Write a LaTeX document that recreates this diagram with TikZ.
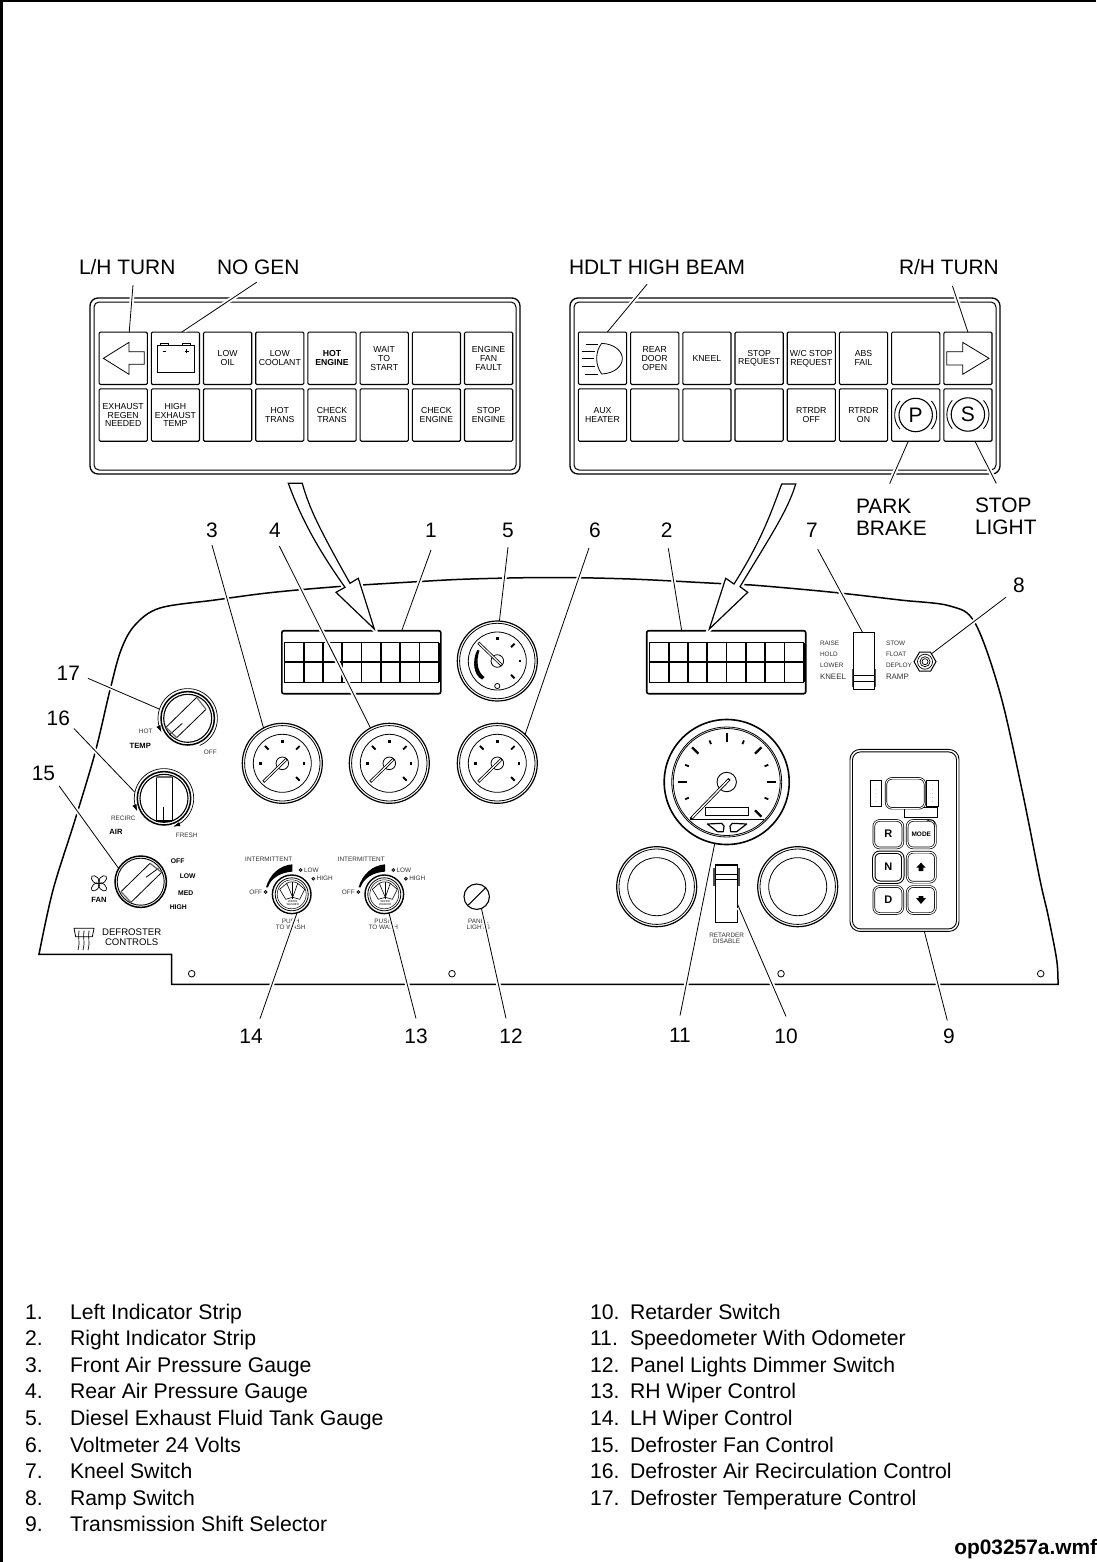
\documentclass[tikz,border=0pt]{standalone}
\usepackage{fontspec}
\setmainfont{Liberation Sans}
\usetikzlibrary{arrows.meta,shapes.geometric,calc}
\newcommand\bigfs{\fontsize{20.9}{22}\selectfont}
\newcommand\legfs{\fontsize{21.2}{22}\selectfont}
\newcommand\btnfs{\fontsize{8.7}{8.8}\selectfont}
\newcommand\smallfs{\fontsize{6.4}{6.7}\selectfont}
\tikzset{
 lab/.style={inner sep=0pt,outer sep=0pt,anchor=base,font=\bigfs},
 labw/.style={lab,anchor=base west},
 leader/.style={line width=.8pt,preaction={draw=white,line width=4.5pt,shorten >=3pt}},
 btn/.style={draw,rounded corners=1.2pt,minimum width=48.2pt,minimum height=52.4pt,inner sep=0pt,outer sep=0pt,align=center,font=\btnfs,line width=1.1pt},
 pbox/.style={draw,rounded corners=8pt,minimum width=430pt,minimum height=176pt,line width=1.3pt,inner sep=0pt,outer sep=0pt},
 pboxin/.style={draw,rounded corners=5pt,minimum width=422pt,minimum height=168pt,line width=1pt,inner sep=0pt,outer sep=0pt},
 dial/.style={draw,circle,fill=white,inner sep=0pt,outer sep=0pt},
 strip/.style={draw,rounded corners=2pt,minimum width=159pt,minimum height=63pt,line width=1.6pt,inner sep=0pt,outer sep=0pt},
 tiny/.style={inner sep=0pt,outer sep=0pt,font=\smallfs,text=black!80},
 tinyb/.style={tiny,font=\bfseries\fontsize{6.8}{7}\selectfont,text=black},
 bigarrow/.style={draw,fill=white,line width=1.2pt,line join=miter,preaction={draw=white,line width=5pt}},
 tbtn/.style={draw,rounded corners=6pt,double,double distance=1.1pt,line width=.7pt,inner sep=0pt,outer sep=0pt,minimum width=28pt,font=\bfseries\fontsize{11}{11}\selectfont},
 swbox/.style={draw,inner sep=0pt,outer sep=0pt,line width=1.1pt},
}
\newcommand\dialface[3]{%
 \node[dial,minimum size=80pt,line width=1.2pt] (#1) at (#2,#3) {};
 \node[dial,minimum size=75.4pt,line width=.8pt] (#1b) at (#2,#3) {};
 \node[dial,minimum size=58pt,line width=.8pt] (#1c) at (#2,#3) {};
}
\newcommand\dialticks[2]{%
 \foreach \a in {45,135,-45}
  \draw[line width=1.9pt] ({#1+19.5*cos(\a)},{#2-19.5*sin(\a)}) -- ({#1+24.5*cos(\a)},{#2-24.5*sin(\a)});
 \foreach \a in {90,0,180}
  \draw[line width=2.4pt] ({#1+20.5*cos(\a)},{#2-20.5*sin(\a)}) -- ({#1+22.9*cos(\a)},{#2-22.9*sin(\a)});
}
\newcommand\dialneedle[5]{% name x y dx dy
 \node[dial,minimum size=12.6pt,line width=.8pt] (#1h) at (#2,#3) {};
 \draw[line width=2.8pt] ({#2+#4},{#3+#5}) -- ({#2-0.24*#4},{#3-0.24*#5});
 \draw[line width=1.2pt,white] ({#2+0.97*#4},{#3+0.97*#5}) -- ({#2-0.2*#4},{#3-0.2*#5});
}
\newcommand\wiperctl[3]{%
 \begin{scope}[shift={(#2,#3)}]
 \node[tiny] (#1int) at (-23,-35) {INTERMITTENT};
 \node[tiny,anchor=west] (#1low) at (12.3,-24.3) {LOW};
 \node[tiny,anchor=west] (#1high) at (25,-15.6) {HIGH};
 \node[tiny] (#1off) at (-36,-2) {OFF};
 \node[tiny,align=center] (#1push) at (-1,30) {PUSH\\TO WASH};
 \fill (-25.7,-7) .. controls (-22,-20) and (-12,-29) .. (0.7,-30) -- (0.7,-22.7) .. controls (-11,-22) and (-21,-16) .. (-23.7,-7) -- cycle;
 \draw[line width=.8pt] (-26,-2.3) circle[radius=1.4pt] (9,-24.3) circle[radius=1.4pt] (21.6,-15.6) circle[radius=1.4pt];
 \node[dial,minimum size=38.6pt,line width=1.4pt] (#1) at (0,0) {};
 \node[dial,minimum size=33pt,line width=.8pt] (#1b) at (0,0) {};
 \node[dial,minimum size=29pt,line width=.5pt] (#1c) at (0,0) {};
 \draw[line width=.6pt] (-12,-5) -- (-5,-11) -- (1,3) -- (-6,5) -- cycle (13,-5) -- (6,-11) -- (1,3) -- (8,5) -- cycle (-5,-11) .. controls (-2,-13) and (3,-13) .. (6,-11);
 \draw[line width=.9pt] (1,-12) -- (1,5);
 \node[inner sep=0pt,align=center,font=\fontsize{2.8}{3}\selectfont] (#1ww) at (1,8.5) {WIPER\\WASHER};
 \end{scope}
}
\newcommand\arcplot[5]{ plot[domain=#4:#5,samples=50,smooth] ({#1+#3*cos(\x)},{#2-#3*sin(\x)}) }
\begin{document}
\begin{tikzpicture}[x=1pt,y=-1pt,line cap=butt]
\useasboundingbox (0,0) rectangle (1096,1562);
\fill[white] (0,0) rectangle (1096,1562);
\clip (0,0) rectangle (1096,1562);
% frame
\draw[line width=2.6pt] (1096,1.2) -- (1.5,1.2) -- (1.5,1562);

% ---------- upper indicator panels
\node[pbox] (pL) at (305,386) {};
\node[pboxin] (pLi) at (305,386) {};
\node[pbox] (pR) at (785,386) {};
\node[pboxin] (pRi) at (785,386) {};

\node[btn] (bl1) at (123.2,358.3) {};
\node[btn] (bl2) at (175.4,358.3) {};
\node[btn] (bl3) at (227.6,358.3) {LOW\\OIL};
\node[btn] (bl4) at (279.8,358.3) {LOW\\COOLANT};
\node[btn,font=\bfseries\btnfs] (bl5) at (332,358.3) {HOT\\ENGINE};
\node[btn] (bl6) at (384.2,358.3) {WAIT\\TO\\START};
\node[btn] (bl7) at (436.4,358.3) {};
\node[btn] (bl8) at (488.6,358.3) {ENGINE\\FAN\\FAULT};
\node[btn] (bl9) at (123.2,415) {EXHAUST\\REGEN\\NEEDED};
\node[btn] (bl10) at (175.4,415) {HIGH\\EXHAUST\\TEMP};
\node[btn] (bl11) at (227.6,415) {};
\node[btn] (bl12) at (279.8,415) {HOT\\TRANS};
\node[btn] (bl13) at (332,415) {CHECK\\TRANS};
\node[btn] (bl14) at (384.2,415) {};
\node[btn] (bl15) at (436.4,415) {CHECK\\ENGINE};
\node[btn] (bl16) at (488.6,415) {STOP\\ENGINE};

\node[btn] (br1) at (602.5,358.3) {};
\node[btn] (br2) at (654.7,358.3) {REAR\\DOOR\\OPEN};
\node[btn] (br3) at (706.9,358.3) {KNEEL};
\node[btn] (br4) at (759.1,358.3) {STOP\\REQUEST};
\node[btn] (br5) at (811.3,358.3) {W/C STOP\\REQUEST};
\node[btn] (br6) at (863.5,358.3) {ABS\\FAIL};
\node[btn] (br7) at (915.7,358.3) {};
\node[btn] (br8) at (967.9,358.3) {};
\node[btn] (br9) at (602.5,415) {AUX\\HEATER};
\node[btn] (br10) at (654.7,415) {};
\node[btn] (br11) at (706.9,415) {};
\node[btn] (br12) at (759.1,415) {};
\node[btn] (br13) at (811.3,415) {RTRDR\\OFF};
\node[btn] (br14) at (863.5,415) {RTRDR\\ON};
\node[btn] (br15) at (915.7,415) {};
\node[btn] (br16) at (967.9,415) {};

% button icons, zoom coordinates of the left panel
\begin{scope}[shift={(80,250)},scale=1/3]
 \draw[line width=.8pt] (70,325) -- (147,277) -- (147,305) -- (193,305) -- (193,343) -- (147,343) -- (147,373) -- cycle;
 \draw[line width=.8pt] (232,287) rectangle (342,367);
 \draw[line width=.8pt] (242,287) -- (242,281) -- (265,281) -- (265,287) (306,287) -- (306,281) -- (330,281) -- (330,287);
 \draw[line width=.9pt] (248,303) -- (259,303) (314,303) -- (326,303) (320,297) -- (320,309);
\end{scope}
% button icons, zoom coordinates of the right panel
\begin{scope}[shift={(560,250)},scale=1/3]
 \draw[line width=.8pt] (125,280) .. controls (165,282) and (187,305) .. (187,325) .. controls (187,348) and (165,370) .. (125,372) .. controls (105,345) and (105,305) .. (125,280);
 \draw[line width=.8pt] (78,282) -- (113,282) (65,303) -- (105,303) (65,325) -- (102,325) (65,348) -- (105,348) (75,372) -- (115,372);
 \draw[line width=.8pt] (1160,305) -- (1208,305) -- (1208,277) -- (1287,325) -- (1208,373) -- (1208,345) -- (1160,345) -- cycle;
\end{scope}
\node[dial,fill=none,minimum size=33.4pt,line width=1.1pt,font=\fontsize{21}{21}\selectfont] (pc) at (915.7,415) {P};
\node[dial,fill=none,minimum size=33.4pt,line width=1.1pt,font=\fontsize{21}{21}\selectfont] (sc) at (967.9,414.5) {S};
\draw[line width=.9pt] \arcplot{915.7}{415}{21}{138}{222} \arcplot{915.7}{415}{21}{-42}{42};
\draw[line width=.9pt] \arcplot{967.9}{414.5}{21}{138}{222} \arcplot{967.9}{414.5}{21}{-42}{42};

% ---------- main panel outline
\draw[line width=1.5pt,line join=miter] (171.7,984.3) -- (171.7,954.3) -- (39,954.3) --
 plot[smooth,tension=.55] coordinates {(39,954.3) (53,890) (75,820) (95,753) (110,690) (121,650) (135,625) (160,608) (215,600) (270,592.7) (336.7,586.7) (416.7,581.7) (470,579) (550,577.5) (630,579) (715,583.3) (751.7,585) (830,592) (900,600) (950,606) (975,623) (1000,693) (1022,790) (1040,880) (1048,915) (1056.7,960) (1058,984.3)} -- cycle;

% holes
\node[dial,minimum size=6.6pt,line width=.8pt] (h1) at (191.7,973.7) {};
\node[dial,minimum size=6.6pt,line width=.8pt] (h2) at (452,973.7) {};
\node[dial,minimum size=6.6pt,line width=.8pt] (h3) at (781,973.7) {};
\node[dial,minimum size=6.6pt,line width=.8pt] (h4) at (1040.7,973.7) {};

% ---------- strips
\node[strip] (strip1) at (361.3,662.2) {};
\node[strip] (strip2) at (726.2,662.2) {};
\foreach \o in {0,365}{
 \foreach \i in {0,...,8}
  \draw[line width=1.7pt] ({284.4+\o+19.3*\i},642.7) -- ({284.4+\o+19.3*\i},682.3);
 \draw[line width=1pt] ({284.4+\o},642.7) -- ({438.8+\o},642.7) ({284.4+\o},682.3) -- ({438.8+\o},682.3);
 \draw[line width=1.8pt] ({284.4+\o},662) -- ({438.8+\o},662);
}

% ---------- gauges
\dialface{g3}{282.3}{763.3}
\dialticks{282.3}{763.3}
\dialneedle{g3}{282.3}{763.3}{-19}{18.5}
\dialface{g4}{389.3}{763.3}
\dialticks{389.3}{763.3}
\dialneedle{g4}{389.3}{763.3}{-19}{18.5}
\dialface{g6}{497.3}{763.3}
\dialticks{497.3}{763.3}
\dialneedle{g6}{497.3}{763.3}{-19}{18.5}
\dialface{g5}{497.3}{661}
\foreach \a in {45,-45}
 \draw[line width=1.9pt] ({497.3+19.5*cos(\a)},{661-19.5*sin(\a)}) -- ({497.3+24.5*cos(\a)},{661-24.5*sin(\a)});
\draw[line width=2.4pt] (497.3,639.8) -- (497.3,637.4) (518.8,661) -- (521.2,661);
\draw[line width=.8pt,fill=white] (497.3,686) circle[radius=2.6pt];
\fill (477.3,650) .. controls (472,660) and (473,675) .. (482,679.5) -- (484.5,677) .. controls (477,672) and (476,660) .. (479.5,650.5) -- cycle;
\dialneedle{g5}{497.3}{661}{-19}{-18.3}
\dialface{g11a}{656.7}{886.7}
\dialface{g11b}{797.7}{886.7}

% speedometer
\node[dial,minimum size=125pt,line width=1.6pt] (sp) at (726.7,782) {};
\node[dial,minimum size=110pt,line width=.8pt] (spb) at (726.7,782) {};
\node[dial,minimum size=107pt,line width=.8pt] (spc) at (726.7,782) {};
\foreach \a in {90,45,135,0,180,-45}
 \draw[line width=2.2pt] ({726.7+40*cos(\a)},{782-40*sin(\a)}) -- ({726.7+49*cos(\a)},{782-49*sin(\a)});
\foreach \a in {112.5,67.5,157.5,22.5,202.5,-22.5}
 \draw[line width=1.8pt] ({726.7+41*cos(\a)},{782-41*sin(\a)}) -- ({726.7+45*cos(\a)},{782-45*sin(\a)});
\draw[line width=.8pt] (690,819) -- (764,819);
\draw[line width=.8pt] (705,807.7) rectangle (748.3,815.7);
\begin{scope}[shift={(600,720)},scale=1/3]
 \draw[line width=1.2pt,line join=round] (322,312) -- (365,310) -- (372,318) -- (370,335) -- (352,335) -- cycle;
 \draw[line width=1.2pt,line join=round] (440,312) -- (397,310) -- (390,318) -- (392,335) -- (410,335) -- cycle;
\end{scope}
\node[dial,minimum size=19.4pt,line width=.9pt] (sph) at (726.7,782) {};
\draw[line width=3pt] (690.7,819) -- (729.5,779);
\draw[line width=1.3pt,white] (692,817.7) -- (728.5,780);

% ---------- knobs
\node[inner sep=0pt,outer sep=0pt,circle,minimum size=60pt] (kn17o) at (187.7,718.3) {};
\draw[line width=.7pt,-{Latex[length=7pt,width=4.5pt]}] \arcplot{187.7}{718.3}{29.7}{-66}{208};
\node[dial,minimum size=53.4pt,line width=1.5pt] (kn17) at (187.7,718.3) {};
\node[dial,minimum size=48pt,line width=1.1pt] (kn17b) at (187.7,718.3) {};
\node[inner sep=0pt,outer sep=0pt,circle,minimum size=60pt] (kn16o) at (164,798.3) {};
\draw[line width=.7pt,{Latex[length=7pt,width=4.5pt]}-{Latex[length=7pt,width=4.5pt]}] \arcplot{164}{798.3}{29.7}{-72}{206};
\node[dial,minimum size=53.4pt,line width=1.5pt] (kn16) at (164,798.3) {};
\node[dial,minimum size=48pt,line width=1.1pt] (kn16b) at (164,798.3) {};
\node[dial,minimum size=51.4pt,line width=1.5pt] (kn15) at (140.7,881.7) {};
\node[dial,minimum size=47pt,line width=.9pt] (kn15b) at (140.7,881.7) {};
\begin{scope}[shift={(20,640)},scale=1/3]
 \draw[line width=.8pt] (438,262) -- (530,172) (470,293) -- (558,208) (448,285) -- (487,250);
 \draw[line width=1.2pt,black!60] (438,262) -- (470,293) (530,172) -- (558,208);
 \draw[line width=.8pt] (408,412) -- (408,543) (456,412) -- (456,543) (431,500) -- (431,543);
 \draw[line width=1.5pt,black!60] (408,411) -- (456,411);
 \draw[line width=1.5pt] (408,543) -- (456,543);
 \draw[line width=.8pt] (303,755) -- (390,670) (333,787) -- (425,697) (378,712) -- (415,685);
 \draw[line width=1.2pt,black!60] (303,755) -- (333,787) (390,670) -- (425,697);
 % defroster icon
 \draw[line width=.8pt] (162,865) -- (222,865) -- (217,890) -- (167,890) -- cycle;
 \foreach \x in {177,192,207}{
  \fill (\x,873) circle[radius=1.3pt];
  \draw[line width=.7pt] (\x,873) .. controls (\x-4,890) and (\x+4,905) .. (\x-3,930);
 }
\end{scope}
\foreach \a in {45,135,225,315}
 \draw[line width=.7pt,shift={(99,883.3)},rotate=\a] (5pt,0pt) ellipse [x radius=5pt,y radius=3pt];
\node[tiny] (tHot) at (145.7,731.7) {HOT};
\node[tinyb,font=\bfseries\fontsize{7.6}{8}\selectfont] (tTemp) at (140.3,745.7) {TEMP};
\node[tiny] (tOff) at (210.3,752.7) {OFF};
\node[tiny] (tRec) at (123.3,818.7) {RECIRC};
\node[tinyb,font=\bfseries\fontsize{7.6}{8}\selectfont] (tAir) at (116,832) {AIR};
\node[tiny] (tFresh) at (186.7,835.7) {FRESH};
\node[tinyb] (tfOff) at (177.7,860.7) {OFF};
\node[tinyb] (tfLow) at (187.7,875.7) {LOW};
\node[tinyb] (tfMed) at (185.7,892.7) {MED};
\node[tinyb] (tfHigh) at (178.3,906.7) {HIGH};
\node[tinyb,font=\bfseries\fontsize{7.6}{8}\selectfont] (tFan) at (99,900) {FAN};
\node[inner sep=0pt,align=center,font=\fontsize{9.6}{10}\selectfont] (tDef) at (131.7,936.7) {DEFROSTER\\CONTROLS};

% ---------- wipers and dimmer
\wiperctl{w14}{291.7}{894.3}
\wiperctl{w13}{384.3}{894.3}
\node[tiny,align=center] (tPanel) at (478.3,924.3) {PANEL\\LIGHTS};
\node[dial,minimum size=25.4pt,line width=1.1pt] (dim) at (476.7,896.7) {};
\draw[line width=1pt] (468.3,905) -- (486,887.3);

% ---------- retarder
\node[swbox,minimum width=22.4pt,minimum height=57.3pt] (rt10) at (726.5,893.65) {};
\draw[line width=.8pt] (715.3,874) -- (737.7,874) (715.3,879.3) -- (737.7,879.3);
\draw[line width=1.2pt,black!70] (714,868) -- (714,885.7) (739,868) -- (739,885.7);
\node[tiny,align=center] (tRet) at (726.7,938.3) {RETARDER\\DISABLE};

% ---------- kneel / ramp
\node[swbox,minimum width=21.4pt,minimum height=56.6pt] (kn7) at (864,661) {};
\draw[line width=.8pt] (853.3,675.3) -- (874.7,675.3) (853.3,681) -- (874.7,681);
\draw[line width=1.2pt,black!70] (852.3,669) -- (852.3,686.7) (875.7,669) -- (875.7,686.7);
\node[tiny,anchor=west] (tRaise) at (820,643.3) {RAISE};
\node[tiny,anchor=west] (tHold) at (820,654.3) {HOLD};
\node[tiny,anchor=west] (tLower) at (820,665.3) {LOWER};
\node[tiny,anchor=west,font=\fontsize{7.9}{8}\selectfont] (tKneel) at (820,677) {KNEEL};
\node[tiny,anchor=west] (tStow) at (886,643.3) {STOW};
\node[tiny,anchor=west] (tFloat) at (886,654.3) {FLOAT};
\node[tiny,anchor=west] (tDeploy) at (886,665.3) {DEPLOY};
\node[tiny,anchor=west,font=\fontsize{7.9}{8}\selectfont] (tRamp) at (886,677) {RAMP};
\node[draw,regular polygon,regular polygon sides=6,minimum size=22pt,inner sep=0pt,outer sep=0pt,line width=1pt] (sw8) at (925,661.7) {};
\node[dial,minimum size=15pt,line width=.7pt] (sw8b) at (925,661.7) {};
\node[dial,minimum size=10pt,line width=.7pt] (sw8c) at (925,661.7) {};
\node[dial,minimum size=6pt,line width=.7pt] (sw8d) at (925,661.7) {};

% ---------- transmission selector
\node[draw,rounded corners=10pt,minimum width=109pt,minimum height=182pt,line width=.9pt,inner sep=0pt,outer sep=0pt] (tb9) at (904.5,840.4) {};
\node[draw,rounded corners=8pt,minimum width=104pt,minimum height=177pt,line width=.9pt,inner sep=0pt,outer sep=0pt] (tb9b) at (904.5,840.4) {};
\begin{scope}[shift={(860,740)},scale=1/3]
 \draw[line width=.7pt] (32,122) rectangle (65,198) (200,122) rectangle (235,198);
 \foreach \y in {135,148,160,172,185}{
  \fill (48,\y) circle[radius=.6pt];
  \fill (217,\y) circle[radius=.6pt];
 }
 \draw[line width=.7pt] (133,203) rectangle (233,232);
 \draw[fill=white,rounded corners=6pt,double,double distance=.9pt,line width=.7pt] (78,115) rectangle (195,205);
\end{scope}
\node[tbtn,minimum width=29pt,minimum height=27.5pt] (tR) at (888.3,834.2) {R};
\node[tbtn,minimum width=28.3pt,minimum height=27.5pt,font=\bfseries\fontsize{6.5}{7}\selectfont] (tM) at (921.3,834.2) {MODE};
\node[tbtn,minimum width=29pt,minimum height=30pt,double distance=1.4pt,line width=1pt] (tN) at (888.3,867.2) {N};
\node[tbtn,minimum width=28.3pt,minimum height=30pt] (tU) at (921.3,867.2) {};
\node[tbtn,minimum width=29pt,minimum height=27pt] (tD) at (888.3,900) {D};
\node[tbtn,minimum width=28.3pt,minimum height=27pt] (tDn) at (921.3,900) {};
\begin{scope}[shift={(860,740)},scale=1/3]
 \fill (183,368) -- (197,383) -- (190,383) -- (190,393) -- (176,393) -- (176,383) -- (169,383) -- cycle;
 \fill (176,468) -- (190,468) -- (190,474) -- (198,474) -- (183,492) -- (168,474) -- (176,474) -- cycle;
 \draw[line width=.7pt] (200,243) .. controls (215,235) and (228,240) .. (224,262);
\end{scope}

% ---------- big arrows
\path[bigarrow] (288.3,483.3) -- (302.3,483.3) .. controls (309,508) and (320,530) .. (350,583.3) -- (358.3,578.3) -- (374.3,629) -- (336,592.3) -- (345,587.3) .. controls (315,545) and (300,515) .. (288.3,483.3) -- cycle;
\path[bigarrow] (795.7,484) -- (781.7,484) .. controls (772,510) and (762,540) .. (734,584) -- (725.7,578.3) -- (709.3,629) -- (747.7,592.3) -- (740,586.7) .. controls (770,537) and (788,510) .. (795.7,484) -- cycle;

% ---------- labels
\node[labw] (lLH) at (79,274) {L/H TURN};
\node[labw] (lNG) at (217,274) {NO GEN};
\node[labw] (lHB) at (569,274) {HDLT HIGH BEAM};
\node[labw] (lRH) at (899,274) {R/H TURN};
\node[labw] (lPB1) at (856,513) {PARK};
\node[labw] (lPB2) at (856,535) {BRAKE};
\node[labw] (lSL1) at (975,512) {STOP};
\node[labw] (lSL2) at (975,534) {LIGHT};
\node[lab] (n3) at (212,537) {3};
\node[lab] (n4) at (275,537) {4};
\node[lab] (n1) at (431,537) {1};
\node[lab] (n5) at (508,537) {5};
\node[lab] (n6) at (595,537) {6};
\node[lab] (n2) at (666.7,537) {2};
\node[lab] (n7) at (812,537) {7};
\node[lab] (n8) at (1019,592) {8};
\node[lab] (n17) at (68.3,680) {17};
\node[lab] (n16) at (58.3,725) {16};
\node[lab] (n15) at (43.5,780) {15};
\node[lab] (n14) at (251,1043) {14};
\node[lab] (n13) at (416,1043) {13};
\node[lab] (n12) at (511,1043) {12};
\node[lab] (n11) at (680,1042) {11};
\node[lab] (n10) at (786,1043) {10};
\node[lab] (n9) at (949,1043) {9};

% ---------- leaders
\draw[leader] ([xshift=5.8pt,yshift=-11pt]lLH.south) -- ([xshift=6pt]bl1.north);
\draw[leader] ([xshift=-1.5pt,yshift=-8pt]lNG.south) -- ([xshift=6.3pt]bl2.north);
\draw[leader] ([xshift=-10pt,yshift=-10pt]lHB.south) -- ([xshift=4.8pt]br1.north);
\draw[leader] ([xshift=3.5pt,yshift=-11.7pt]lRH.south) -- (br8.north);
\draw[leader] ([xshift=6pt,yshift=15pt]lPB1.north) -- ([xshift=-7.4pt]br15.south);
\draw[leader] ([xshift=-7pt,yshift=14pt]lSL1.north) -- ([xshift=7pt]br16.south);
\draw[leader] ([yshift=-8pt]n3.south) -- (g3.118.6);
\draw[leader] ([xshift=4.3pt,yshift=-9pt]n4.south) -- (g4.118);
\draw[leader] ([yshift=-13pt]n1.south) -- ([xshift=40.4pt]strip1.north);
\draw[leader] ([yshift=-10pt]n5.south) -- (g5.87);
\draw[leader] ([xshift=-6pt,yshift=-10.7pt]n6.south) -- (g6.46);
\draw[leader] ([xshift=1.6pt,yshift=-11.3pt]n2.south) -- ([xshift=-44.5pt]strip2.north);
\draw[leader] ([xshift=5.7pt,yshift=-12.3pt]n7.south) -- ([xshift=-1.3pt]kn7.north);
\draw[leader] ([xshift=-13pt,yshift=-5pt]n8.south) -- (sw8.51);
\draw[leader] ([xshift=8pt,yshift=1.7pt]n17.south east) -- (kn17o.162);
\draw[leader] ([xshift=4pt,yshift=-3.3pt]n16.south east) -- (kn16o.168);
\draw[leader] ([xshift=4pt,yshift=-5.7pt]n15.south east) -- (kn15.149);
\draw[leader] ([xshift=9pt,yshift=10pt]n14.north) -- (w14.286);
\draw[leader] ([yshift=10pt]n13.north) -- (w13.284);
\draw[leader] ([xshift=-5pt,yshift=10pt]n12.north) -- (dim.292);
\draw[leader] ([yshift=12pt]n11.north) -- (sp.259);
\draw[leader] ([yshift=12pt]n10.north) -- ([yshift=-11pt]rt10.east);
\draw[leader] ([xshift=-1.7pt,yshift=8pt]n9.north) -- ([xshift=19.8pt]tb9.south);

% ---------- legend
\foreach \i/\t in {1/Left Indicator Strip,2/Right Indicator Strip,3/Front Air Pressure Gauge,4/Rear Air Pressure Gauge,5/Diesel Exhaust Fluid Tank Gauge,6/Voltmeter 24 Volts,7/Kneel Switch,8/Ramp Switch,9/Transmission Shift Selector}{
 \node[labw,font=\legfs] (ln\i) at (25,{1319+26.6*(\i-1)}) {\i.};
 \node[labw,font=\legfs] (lt\i) at (70,{1319+26.6*(\i-1)}) {\t};
}
\foreach \i/\t in {10/Retarder Switch,11/Speedometer With Odometer,12/Panel Lights Dimmer Switch,13/RH Wiper Control,14/LH Wiper Control,15/Defroster Fan Control,16/Defroster Air Recirculation Control,17/Defroster Temperature Control}{
 \node[labw,font=\legfs] (ln\i) at (590,{1319+26.6*(\i-10)}) {\i.};
 \node[labw,font=\legfs] (lt\i) at (630,{1319+26.6*(\i-10)}) {\t};
}
\node[labw,font=\bfseries\bigfs] (lOp) at (954.3,1554) {op03257a.wmf};
\end{tikzpicture}
\end{document}
